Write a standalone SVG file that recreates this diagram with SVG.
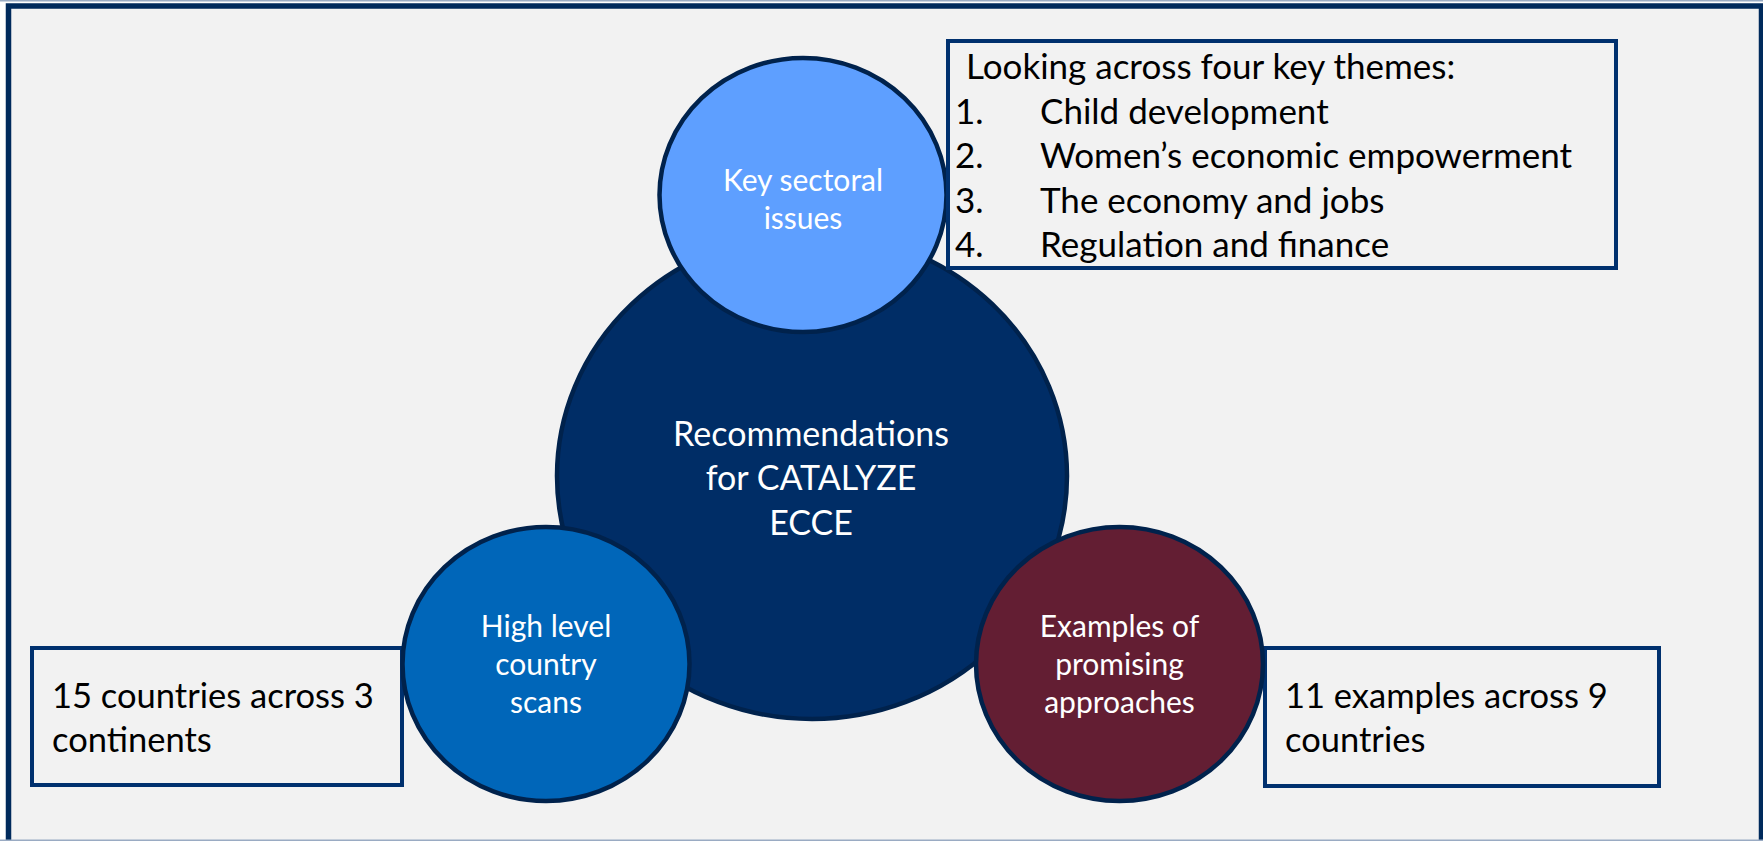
<svg xmlns="http://www.w3.org/2000/svg" width="1763" height="841" viewBox="0 0 1763 841">
  <style>
    .frame { fill: #f2f2f2; stroke: #002a5c; stroke-width: 5.5; }
    .edge { stroke: #9aabc3; stroke-width: 1.5; }
    .bubble { stroke: #00224c; stroke-width: 4.5; }
    .box { fill: none; stroke: #00306e; stroke-width: 4; }
    .lbl { font-family: Lato, "Open Sans", "Liberation Sans", sans-serif; }
    .in { fill: #ffffff; text-anchor: middle; }
    .out { fill: #000000; }
    .note { font-size: 34.5px; }
    .theme { font-size: 35px; }
    .small { font-size: 30px; }
    .big { font-size: 34px; }
  </style>

  <!-- canvas and outer frame -->
  <rect x="0" y="0" width="1763" height="841" fill="#ffffff"/>
  <rect class="frame" x="8.5" y="6" width="1753" height="860"/>
  <line class="edge" x1="0" y1="0.75" x2="1763" y2="0.75"/>
  <line class="edge" x1="0" y1="840.25" x2="1763" y2="840.25"/>

  <!-- side notes under the lower bubbles -->
  <g id="note-countries">
    <rect class="box" x="32" y="648" width="370" height="137"/>
    <text class="lbl out note" x="52" y="707.5">15 countries across 3</text>
    <text class="lbl out note" x="52" y="752">continents</text>
  </g>
  <g id="note-examples">
    <rect class="box" x="1265" y="648" width="394" height="138"/>
    <text class="lbl out note" x="1285" y="707.5">11 examples across 9</text>
    <text class="lbl out note" x="1285" y="752">countries</text>
  </g>

  <!-- central bubble -->
  <g id="center">
    <ellipse class="bubble" cx="812" cy="476" rx="255" ry="243" fill="#002d66"/>
    <text class="lbl in big" x="811" y="445.7">Recommendations</text>
    <text class="lbl in big" x="811" y="490.3">for CATALYZE</text>
    <text class="lbl in big" x="811" y="535">ECCE</text>
  </g>

  <!-- surrounding bubbles -->
  <g id="sectoral">
    <ellipse class="bubble" cx="803" cy="195" rx="143.5" ry="137" fill="#5e9fff"/>
    <text class="lbl in small" x="803" y="190.7">Key sectoral</text>
    <text class="lbl in small" x="803" y="229">issues</text>
  </g>
  <g id="country-scans">
    <ellipse class="bubble" cx="546" cy="664" rx="143.5" ry="137" fill="#0066b9"/>
    <text class="lbl in small" x="546" y="636.7">High level</text>
    <text class="lbl in small" x="546" y="675">country</text>
    <text class="lbl in small" x="546" y="713.3">scans</text>
  </g>
  <g id="approaches">
    <ellipse class="bubble" cx="1119.5" cy="664" rx="143.5" ry="137" fill="#631e33"/>
    <text class="lbl in small" x="1119.5" y="636.7">Examples of</text>
    <text class="lbl in small" x="1119.5" y="675">promising</text>
    <text class="lbl in small" x="1119.5" y="713.3">approaches</text>
  </g>

  <!-- theme list -->
  <g id="themes">
    <rect class="box" x="948" y="41" width="668" height="227"/>
    <text class="lbl out theme" x="966" y="79">Looking across four key themes:</text>
    <text class="lbl out theme" x="955" y="123.5">1.</text>
    <text class="lbl out theme" x="1040" y="123.5">Child development</text>
    <text class="lbl out theme" x="955" y="168">2.</text>
    <text class="lbl out theme" x="1040" y="168">Women’s economic empowerment</text>
    <text class="lbl out theme" x="955" y="212.5">3.</text>
    <text class="lbl out theme" x="1040" y="212.5">The economy and jobs</text>
    <text class="lbl out theme" x="955" y="257">4.</text>
    <text class="lbl out theme" x="1040" y="257">Regulation and finance</text>
  </g>
</svg>
